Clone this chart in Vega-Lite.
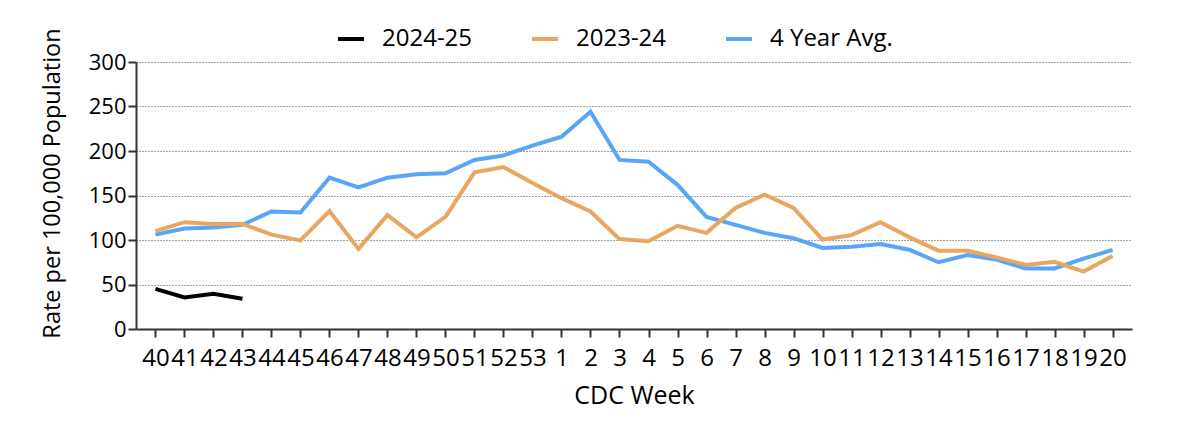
{
  "$schema": "https://vega.github.io/schema/vega-lite/v6.json",
  "autosize": "none",
  "width": 996,
  "height": 267,
  "padding": {"left": 136, "top": 62, "right": 68, "bottom": 98},
  "background": "white",
  "config": {
    "font": "Open Sans",
    "view": {"stroke": null},
    "axis": {
      "labelFont": "Open Sans",
      "titleFont": "Open Sans",
      "labelFontSize": 24,
      "titleFontSize": 24,
      "titleFontWeight": "normal",
      "labelColor": "#000",
      "titleColor": "#000",
      "domainColor": "#333",
      "domainWidth": 2,
      "tickColor": "#333",
      "tickWidth": 2
    },
    "legend": {"labelFont": "Open Sans", "labelFontSize": 24, "labelColor": "#000"}
  },
  "data": {
    "values": [
      {"week": "40", "series": "4 Year Avg.", "rate": 106},
      {"week": "41", "series": "4 Year Avg.", "rate": 113},
      {"week": "42", "series": "4 Year Avg.", "rate": 114},
      {"week": "43", "series": "4 Year Avg.", "rate": 117},
      {"week": "44", "series": "4 Year Avg.", "rate": 132},
      {"week": "45", "series": "4 Year Avg.", "rate": 131},
      {"week": "46", "series": "4 Year Avg.", "rate": 170},
      {"week": "47", "series": "4 Year Avg.", "rate": 159},
      {"week": "48", "series": "4 Year Avg.", "rate": 170},
      {"week": "49", "series": "4 Year Avg.", "rate": 174},
      {"week": "50", "series": "4 Year Avg.", "rate": 175},
      {"week": "51", "series": "4 Year Avg.", "rate": 190},
      {"week": "52", "series": "4 Year Avg.", "rate": 195},
      {"week": "53", "series": "4 Year Avg.", "rate": 206},
      {"week": "1", "series": "4 Year Avg.", "rate": 216},
      {"week": "2", "series": "4 Year Avg.", "rate": 244},
      {"week": "3", "series": "4 Year Avg.", "rate": 190},
      {"week": "4", "series": "4 Year Avg.", "rate": 188},
      {"week": "5", "series": "4 Year Avg.", "rate": 162},
      {"week": "6", "series": "4 Year Avg.", "rate": 126},
      {"week": "7", "series": "4 Year Avg.", "rate": 117},
      {"week": "8", "series": "4 Year Avg.", "rate": 108},
      {"week": "9", "series": "4 Year Avg.", "rate": 102},
      {"week": "10", "series": "4 Year Avg.", "rate": 91},
      {"week": "11", "series": "4 Year Avg.", "rate": 92.5},
      {"week": "12", "series": "4 Year Avg.", "rate": 95.5},
      {"week": "13", "series": "4 Year Avg.", "rate": 89},
      {"week": "14", "series": "4 Year Avg.", "rate": 75},
      {"week": "15", "series": "4 Year Avg.", "rate": 83},
      {"week": "16", "series": "4 Year Avg.", "rate": 78},
      {"week": "17", "series": "4 Year Avg.", "rate": 68},
      {"week": "18", "series": "4 Year Avg.", "rate": 68},
      {"week": "19", "series": "4 Year Avg.", "rate": 79},
      {"week": "20", "series": "4 Year Avg.", "rate": 89},
      {"week": "40", "series": "2023-24", "rate": 110},
      {"week": "41", "series": "2023-24", "rate": 120},
      {"week": "42", "series": "2023-24", "rate": 118},
      {"week": "43", "series": "2023-24", "rate": 118},
      {"week": "44", "series": "2023-24", "rate": 106},
      {"week": "45", "series": "2023-24", "rate": 99.5},
      {"week": "46", "series": "2023-24", "rate": 132.5},
      {"week": "47", "series": "2023-24", "rate": 90},
      {"week": "48", "series": "2023-24", "rate": 128},
      {"week": "49", "series": "2023-24", "rate": 103},
      {"week": "50", "series": "2023-24", "rate": 126},
      {"week": "51", "series": "2023-24", "rate": 176},
      {"week": "52", "series": "2023-24", "rate": 182},
      {"week": "53", "series": "2023-24", "rate": 164},
      {"week": "1", "series": "2023-24", "rate": 147},
      {"week": "2", "series": "2023-24", "rate": 132},
      {"week": "3", "series": "2023-24", "rate": 101},
      {"week": "4", "series": "2023-24", "rate": 98.5},
      {"week": "5", "series": "2023-24", "rate": 116},
      {"week": "6", "series": "2023-24", "rate": 108},
      {"week": "7", "series": "2023-24", "rate": 136},
      {"week": "8", "series": "2023-24", "rate": 151},
      {"week": "9", "series": "2023-24", "rate": 136},
      {"week": "10", "series": "2023-24", "rate": 100.5},
      {"week": "11", "series": "2023-24", "rate": 105.5},
      {"week": "12", "series": "2023-24", "rate": 120},
      {"week": "13", "series": "2023-24", "rate": 103},
      {"week": "14", "series": "2023-24", "rate": 88},
      {"week": "15", "series": "2023-24", "rate": 88},
      {"week": "16", "series": "2023-24", "rate": 80.5},
      {"week": "17", "series": "2023-24", "rate": 72},
      {"week": "18", "series": "2023-24", "rate": 75.5},
      {"week": "19", "series": "2023-24", "rate": 64.5},
      {"week": "20", "series": "2023-24", "rate": 82},
      {"week": "40", "series": "2024-25", "rate": 45},
      {"week": "41", "series": "2024-25", "rate": 35.5},
      {"week": "42", "series": "2024-25", "rate": 39.5},
      {"week": "43", "series": "2024-25", "rate": 34}
    ]
  },
  "mark": {"type": "line", "strokeWidth": 4, "strokeJoin": "miter", "strokeCap": "butt"},
  "encoding": {
    "x": {
      "field": "week",
      "type": "ordinal",
      "sort": ["40","41","42","43","44","45","46","47","48","49","50","51","52","53","1","2","3","4","5","6","7","8","9","10","11","12","13","14","15","16","17","18","19","20"],
      "scale": {"type": "point", "padding": 0.67},
      "axis": {
        "title": "CDC Week",
        "labelAngle": 0,
        "tickSize": 8,
        "labelPadding": 9,
        "titlePadding": 13,
        "titleFontSize": 25,
        "grid": false
      }
    },
    "y": {
      "field": "rate",
      "type": "quantitative",
      "scale": {"domain": [0, 300], "nice": false},
      "axis": {
        "title": "Rate per 100,000 Population",
        "values": [0, 50, 100, 150, 200, 250, 300],
        "labelFontSize": 22,
        "titleFontSize": 23.5,
        "tickSize": 8,
        "labelPadding": 2,
        "titlePadding": 24,
        "titleY": 121,
        "grid": true,
        "gridDash": [1, 2],
        "gridColor": "#444",
        "gridWidth": 1
      }
    },
    "color": {
      "field": "series",
      "type": "nominal",
      "scale": {"domain": ["2024-25", "2023-24", "4 Year Avg."], "range": ["#000000", "#E8A660", "#59A5F7"]},
      "legend": {
        "title": null,
        "orient": "none",
        "direction": "horizontal",
        "legendX": 200,
        "legendY": -38,
        "symbolType": "stroke",
        "symbolSize": 676,
        "symbolStrokeWidth": 4,
        "labelOffset": 16,
        "columnPadding": 51
      }
    }
  }
}
